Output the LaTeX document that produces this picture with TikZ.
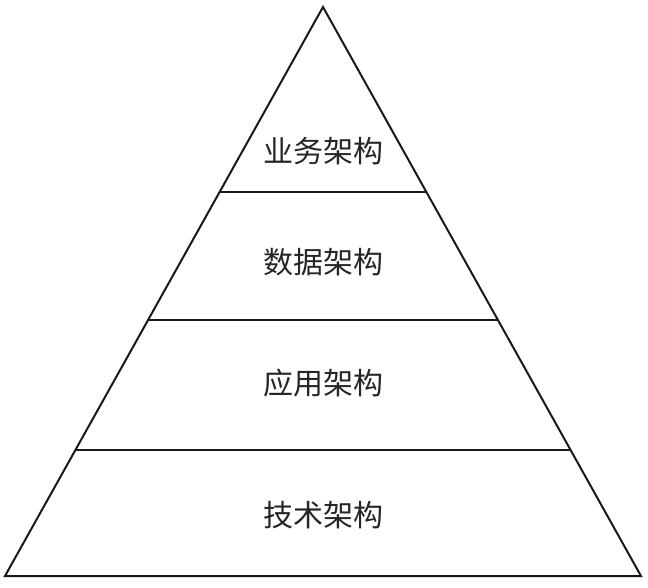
\documentclass[tikz,border=0pt]{standalone}
\usepackage{fontspec}
\newfontfamily\cjk{Noto Sans CJK SC}
\usetikzlibrary{calc,positioning}

\begin{document}
\begin{tikzpicture}[x=1pt, y=-1pt,
    edge/.style={line width=2pt, black!90, line join=miter},
    layer/.style={font=\cjk\fontsize{30}{30}\selectfont, text=black!85, inner sep=0pt}
]
\useasboundingbox (0,0) rectangle (648,587);

% Triangle corners
\coordinate (apex) at (323, 7);
\coordinate (bl) at (5, 576);
\coordinate (br) at (641, 576);

% Layer borders on the sides
\foreach \n/\t in {1/0.3257, 2/0.5493, 3/0.7782} {
  \coordinate (l\n) at ($(apex)!\t!(bl)$);
  \coordinate (r\n) at ($(apex)!\t!(br)$);
}

% Outline
\draw[edge] (apex) -- (bl) -- (br) -- cycle;

% Layer lines
\foreach \n in {1,2,3} {
  \draw[edge] (l\n) -- (r\n);
}

% Labels
\node[layer] (biz) at (323, 151) {业务架构};
\node[layer] (data) at (323, 262) {数据架构};
\node[layer] (app) at (323, 383) {应用架构};
\node[layer] (tech) at (323, 515) {技术架构};

\end{tikzpicture}
\end{document}
